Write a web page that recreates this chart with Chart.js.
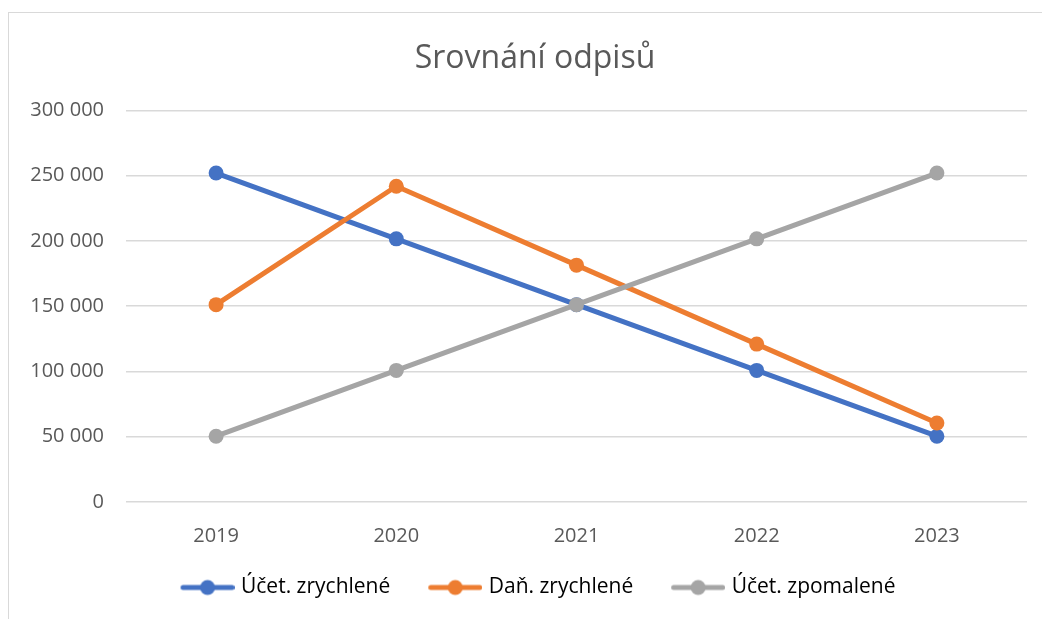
<!DOCTYPE html>
<html>
<head>
<meta charset="utf-8">
<script src="https://cdn.jsdelivr.net/npm/chart.js@4"></script>
<style>
  body { margin: 0; background: #fff; overflow: hidden; }
  #wrap { position: relative; width: 1042px; height: 619px; overflow: hidden; }
  #frame { position: absolute; left: 8px; top: 12px; width: 1100px; height: 700px; border: 1px solid #d9d9d9; box-sizing: border-box; }
  #c { position: absolute; left: 0; top: 0; }
</style>
</head>
<body>
<div id="wrap">
  <div id="frame"></div>
  <!-- the original chart frame runs past the right edge of the picture -->
  <canvas id="c" width="1060" height="619"></canvas>
</div>
<script>
// data
const years = ['2019', '2020', '2021', '2022', '2023'];
const ucetZrychlene = [252000, 201600, 151200, 100800, 50400];
const danZrychlene = [151200, 241920, 181440, 120960, 60480];
const ucetZpomalene = [50400, 100800, 151200, 201600, 252000];
const seriesNames = ['Účet. zrychlené', 'Daň. zrychlené', 'Účet. zpomalené'];
const colors = ['#4472C4', '#ED7D31', '#A5A5A5'];

const FONT = "'Open Sans', sans-serif";
const TEXT = '#595959';

// legend marker: line with a dot, with some empty space on the left as item gap
const GAP = 10;
function legendIcon(color) {
    const cv = document.createElement('canvas');
    cv.width = GAP + 54;
    cv.height = 18;
    const g = cv.getContext('2d');
    g.strokeStyle = color;
    g.lineWidth = 5;
    g.lineCap = 'round';
    g.beginPath();
    g.moveTo(GAP + 2.5, 9);
    g.lineTo(GAP + 51.5, 9);
    g.stroke();
    g.fillStyle = color;
    g.beginPath();
    g.arc(GAP + 27, 9, 7.5, 0, Math.PI * 2);
    g.fill();
    return cv;
}

function fmt(v) {
    return String(v).replace(/\B(?=(\d{3})+(?!\d))/g, ' ');
}

// later series are drawn on top, like in the original
const ds = [ucetZrychlene, danZrychlene, ucetZpomalene].map((vals, i) => ({
    label: seriesNames[i],
    data: vals,
    order: 3 - i,
    borderColor: colors[i],
    backgroundColor: colors[i],
    borderWidth: 5,
    pointRadius: 7.5,
    pointHoverRadius: 7.5,
    pointBorderWidth: 0,
    pointStyle: 'circle',
    tension: 0
}));

new Chart(document.getElementById('c').getContext('2d'), {
    type: 'line',
    data: { labels: years, datasets: ds },
    options: {
        responsive: false,
        animation: false,
        layout: { padding: { left: 10, right: 0, top: 0, bottom: 11 } },
        plugins: {
            title: {
                display: true,
                text: 'Srovnání odpisů',
                color: TEXT,
                font: { family: FONT, size: 32, weight: 'normal' },
                padding: { top: 40, bottom: 32 }
            },
            legend: {
                position: 'bottom',
                labels: {
                    usePointStyle: true,
                    pointStyleWidth: GAP + 46,
                    color: TEXT,
                    font: { family: FONT, size: 21 },
                    padding: 32,
                    generateLabels: chart => chart.data.datasets.map((d, i) => ({
                        text: d.label,
                        pointStyle: legendIcon(colors[i]),
                        fillStyle: colors[i],
                        strokeStyle: colors[i],
                        lineWidth: 0,
                        datasetIndex: i
                    }))
                }
            },
            tooltip: { enabled: false }
        },
        scales: {
            x: {
                offset: true,
                grid: { display: false },
                border: { display: false },
                ticks: { color: TEXT, font: { family: FONT, size: 20 }, padding: 14 },
                afterFit: s => { s.height = 43; }
            },
            y: {
                min: 0,
                max: 300000,
                ticks: {
                    stepSize: 50000,
                    color: TEXT,
                    font: { family: FONT, size: 20 },
                    padding: 22,
                    callback: v => fmt(v)
                },
                grid: { color: '#d9d9d9', lineWidth: 1.5, drawTicks: false },
                border: { display: false },
                afterFit: s => { s.width = 116; }
            },
            // empty space on the right of the plot
            yRight: {
                position: 'right',
                ticks: { display: false },
                grid: { display: false, drawOnChartArea: false },
                border: { display: false },
                afterFit: s => { s.width = 33; }
            }
        }
    }
});
</script>
</body>
</html>
